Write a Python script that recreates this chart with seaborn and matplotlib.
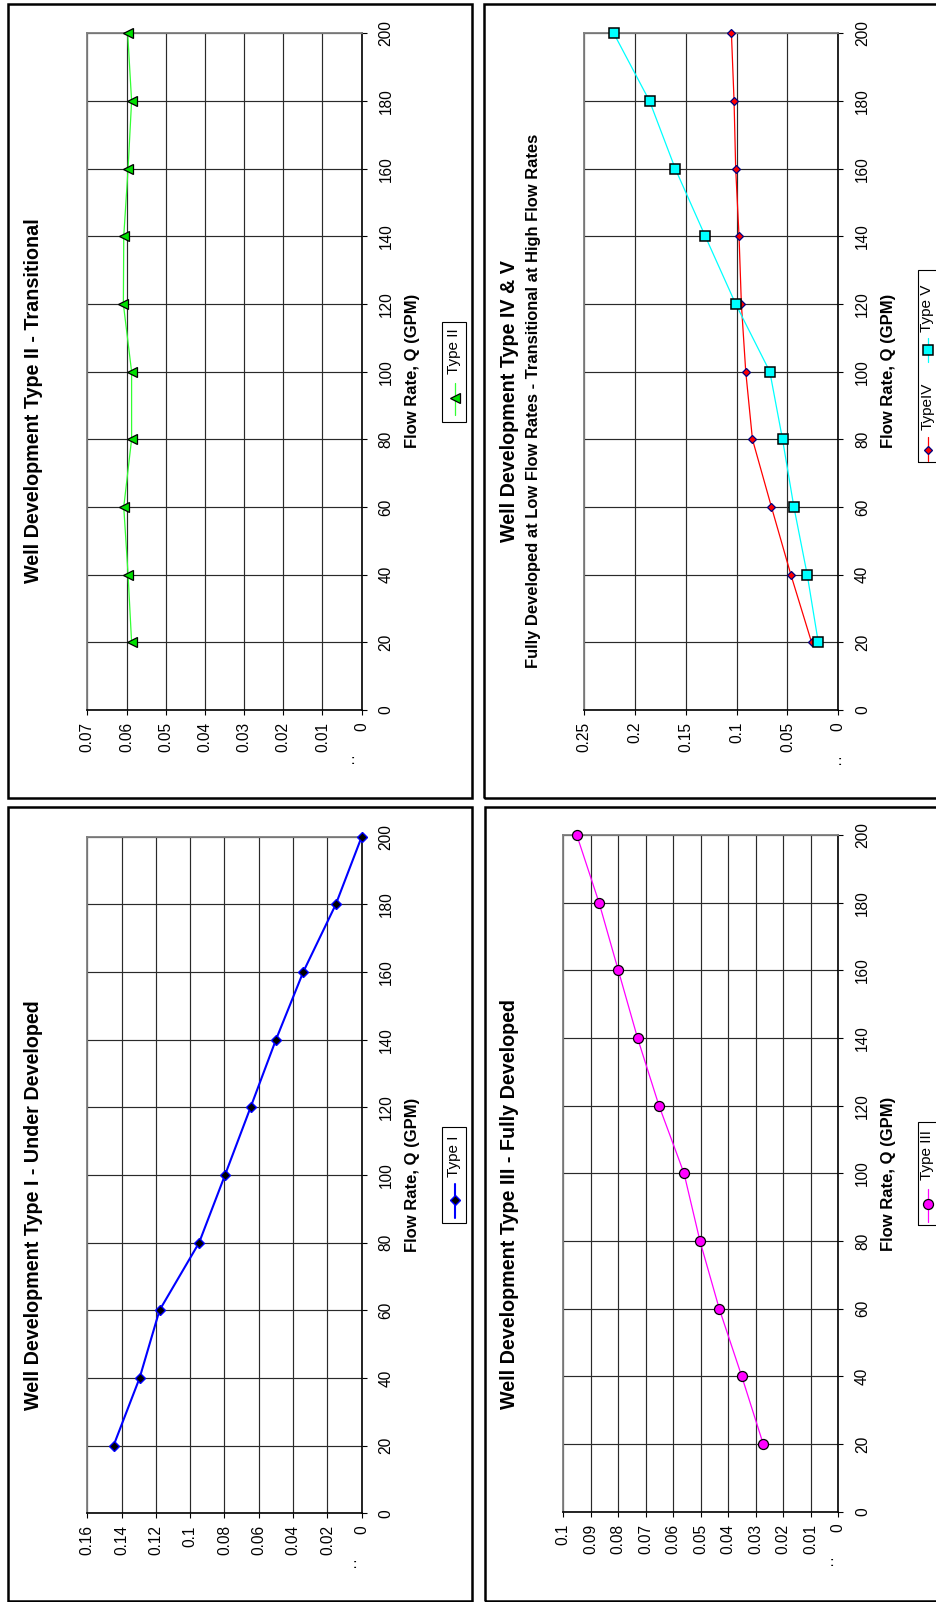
import matplotlib
matplotlib.use("Agg")
import matplotlib.pyplot as plt
from matplotlib.lines import Line2D
from matplotlib.patches import Rectangle
import numpy as np
import pandas as pd
import seaborn as sns

# ---- data -------------------------------------------------------------
FLOW = [20, 40, 60, 80, 100, 120, 140, 160, 180, 200]
FLOW_TICKS = [0, 20, 40, 60, 80, 100, 120, 140, 160, 180, 200]

TYPE_I = [0.1447, 0.1295, 0.1179, 0.0948, 0.0797, 0.0648, 0.0500, 0.0341, 0.0151, 0.0]
TYPE_II = [0.0587, 0.0596, 0.0607, 0.0587, 0.0587, 0.0608, 0.0607, 0.0596, 0.0587, 0.0597]
TYPE_III = [0.0273, 0.0351, 0.0433, 0.0503, 0.0561, 0.0652, 0.0730, 0.0800, 0.0870, 0.0951]
TYPE_IV = [0.0263, 0.0467, 0.0658, 0.0845, 0.0911, 0.0954, 0.0977, 0.1010, 0.1026, 0.1052]
TYPE_V = [0.0197, 0.0306, 0.0437, 0.0549, 0.0674, 0.1010, 0.1309, 0.1605, 0.1858, 0.2210]

TITLE_I = "Well Development Type I - Under Developed"
TITLE_II = "Well Development Type II - Transitional"
TITLE_III = "Well Development Type III - Fully Developed"
TITLE_IV_V = "Well Development Type IV & V"
SUBTITLE_IV_V = "Fully Developed at Low Flow Rates - Transitional at High Flow Rates"
X_LABEL = "Flow Rate, Q (GPM)"

# ---- styles -----------------------------------------------------------
STYLE_I = dict(color="#0000FF", linewidth=1.5, marker="D", markersize=5.0,
               markerfacecolor="#000000", markeredgecolor="#0000FF", markeredgewidth=1.0)
STYLE_II = dict(color="#33FF33", linewidth=0.9, marker="<", markersize=7.5,
                markerfacecolor="#00E000", markeredgecolor="#000000", markeredgewidth=0.9)
STYLE_III = dict(color="#FF00FF", linewidth=0.9, marker="o", markersize=7.2,
                 markerfacecolor="#FF00FF", markeredgecolor="#000000", markeredgewidth=0.9)
STYLE_IV = dict(color="#FF0000", linewidth=0.9, marker="D", markersize=4.4,
                markerfacecolor="#FF0000", markeredgecolor="#000080", markeredgewidth=0.9)
STYLE_V = dict(color="#00FFFF", linewidth=0.9, marker="s", markersize=6.6,
               markerfacecolor="#00FFFF", markeredgecolor="#000000", markeredgewidth=1.1)

W, H, DPI = 937, 1602, 100

sns.set_theme(style="white")
plt.rcParams["font.family"] = ["Liberation Sans", "DejaVu Sans"]
plt.rcParams["axes.unicode_minus"] = False

fig = plt.figure(figsize=(W / DPI, H / DPI), dpi=DPI)
fig.patch.set_facecolor("white")


def fx(x):
    return x / W


def fy(y):
    return 1 - y / H


def add_frame(x0, y0, x1, y1, lw=1.8):
    fig.add_artist(Rectangle((fx(x0), fy(y1)), (x1 - x0) / W, (y1 - y0) / H,
                             transform=fig.transFigure, fill=False,
                             edgecolor="black", linewidth=lw, zorder=5))


def fmt(v):
    return f"{round(v, 4):g}"


def make_panel(plot_box, vmax, step, series):
    x0, y0, x1, y1 = plot_box
    ax = fig.add_axes([fx(x0), fy(y1), (x1 - x0) / W, (y1 - y0) / H])
    for values, style in series:
        df = pd.DataFrame({"flow": FLOW, "value": values})
        sns.lineplot(data=df, x="value", y="flow", orient="y", estimator=None,
                     ax=ax, legend=False, clip_on=False, zorder=4, **style)
    ax.set_xlim(vmax, 0)
    ax.set_ylim(0, 200)
    vticks = np.round(np.arange(0, vmax + step / 2, step), 4)
    ax.set_xticks(vticks)
    ax.set_xticklabels([fmt(v) for v in vticks], rotation=90, ha="center", va="top")
    ax.yaxis.tick_right()
    ax.set_yticks(FLOW_TICKS)
    ax.set_yticklabels([str(t) for t in FLOW_TICKS], rotation=90, ha="left", va="center")
    ax.tick_params(axis="x", direction="out", length=3.6, width=0.8, colors="black",
                   labelsize=11.2, pad=5, bottom=True)
    ax.tick_params(axis="y", direction="out", length=3.6, width=0.8, colors="black",
                   labelsize=11.2, pad=8.5, right=True, left=False)
    ax.set_xlabel("")
    ax.set_ylabel("")
    ax.grid(True, color="#2a2a2a", linewidth=0.85)
    ax.set_axisbelow(True)
    for side in ("left", "top"):
        ax.spines[side].set_color("#7f7f7f")
        ax.spines[side].set_linewidth(1.3)
    for side in ("right", "bottom"):
        ax.spines[side].set_color("black")
        ax.spines[side].set_linewidth(1.2)
    return ax


def add_legend(box, entries, cx):
    x0, y0, x1, y1 = box
    fig.add_artist(Rectangle((fx(x0), fy(y1)), (x1 - x0) / W, (y1 - y0) / H,
                             transform=fig.transFigure, fill=False,
                             edgecolor="black", linewidth=0.8, zorder=5))
    for label, style, text_y, mark_y, ly0, ly1 in entries:
        fig.add_artist(Line2D([fx(cx), fx(cx)], [fy(ly0), fy(ly1)], color=style["color"],
                              linewidth=style["linewidth"], transform=fig.transFigure, zorder=6))
        fig.add_artist(Line2D([fx(cx)], [fy(mark_y)], linestyle="none", marker=style["marker"],
                              markersize=style["markersize"],
                              markerfacecolor=style["markerfacecolor"],
                              markeredgecolor=style["markeredgecolor"],
                              markeredgewidth=style["markeredgewidth"],
                              transform=fig.transFigure, zorder=7))
        fig.text(fx(cx - 1), fy(text_y), label, rotation=90, ha="center", va="center",
                 fontsize=11, color="black")


def add_texts(title_x, title_y, title, label_x, label_y, dots_xy, sub=None):
    fig.text(fx(title_x), fy(title_y), title, rotation=90, ha="center", va="center",
             fontsize=14.2, fontweight="bold", color="black")
    if sub is not None:
        sx, stext = sub
        fig.text(fx(sx), fy(title_y), stext, rotation=90, ha="center", va="center",
                 fontsize=11.9, fontweight="bold", color="black")
    fig.text(fx(label_x), fy(label_y), X_LABEL, rotation=90, ha="center", va="center",
             fontsize=12, fontweight="bold", color="black")
    fig.text(fx(dots_xy[0]), fy(dots_xy[1]), ":", ha="center", va="center",
             fontsize=9, fontweight="bold", color="black")


# ---- panel frames -----------------------------------------------------
add_frame(8, 4, 472, 798)
add_frame(484, 4, 960, 798)
add_frame(8, 807, 472, 1601)
add_frame(485, 807, 960, 1601)

# ---- Type II (upper left) ---------------------------------------------
make_panel((87.3, 33.3, 361.7, 710), 0.07, 0.01, [(TYPE_II, STYLE_II)])
add_texts(34, 401, TITLE_II, 413, 371, (353, 761))
add_legend((442, 322, 466, 422), [("Type II", STYLE_II, 351, 398, 383, 415)], 455)

# ---- Type IV & V (upper right) ----------------------------------------
make_panel((584.3, 33.3, 838.3, 710), 0.25, 0.05, [(TYPE_IV, STYLE_IV), (TYPE_V, STYLE_V)])
add_texts(510, 401, TITLE_IV_V, 889, 371, (840, 762), sub=(533.5, SUBTITLE_IV_V))
add_legend((918, 270, 960, 462),
           [("TypeIV", STYLE_IV, 406, 450, 437, 461),
            ("Type V", STYLE_V, 308.5, 350, 338, 362)], 928.5)

# ---- Type I (lower left) ----------------------------------------------
make_panel((87.3, 836.7, 361.7, 1513.3), 0.16, 0.02, [(TYPE_I, STYLE_I)])
add_texts(34, 1205, TITLE_I, 413, 1175, (355, 1565))
add_legend((442, 1127, 466, 1223), [("Type I", STYLE_I, 1156, 1200, 1184, 1218)], 455)

# ---- Type III (lower right) -------------------------------------------
make_panel((563.3, 835, 838.3, 1511.7), 0.1, 0.01, [(TYPE_III, STYLE_III)])
add_texts(509.5, 1204, TITLE_III, 889, 1174, (832, 1563))
add_legend((918, 1122, 960, 1225), [("Type III", STYLE_III, 1155, 1204, 1189, 1222)], 928.5)

fig.savefig("out.png", dpi=DPI, facecolor="white")
